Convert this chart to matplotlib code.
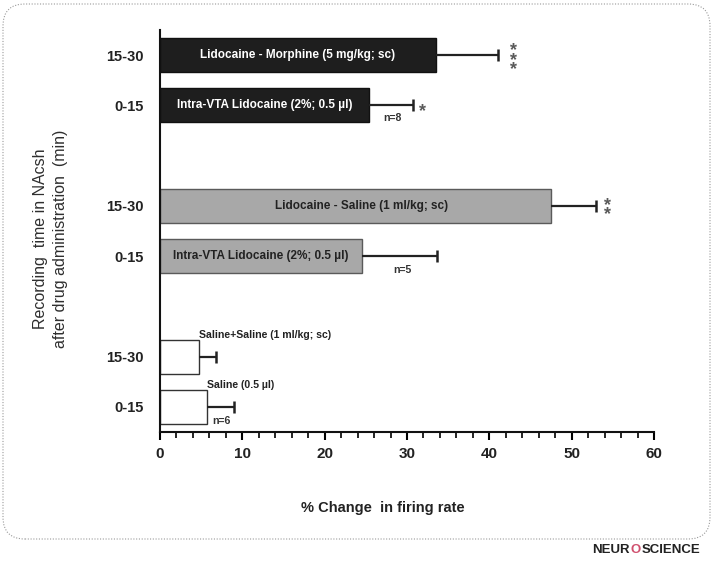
import matplotlib
matplotlib.use('Agg')
import matplotlib.pyplot as plt
from matplotlib.patches import FancyBboxPatch
from matplotlib.transforms import IdentityTransform
from matplotlib.ticker import MultipleLocator

plt.rcParams['font.family'] = ['Liberation Sans', 'DejaVu Sans']

# rows, top to bottom
row_labels = ["15-30", "0-15", "15-30", "0-15", "15-30", "0-15"]
row_pos = [7, 6, 4, 3, 1, 0]
means = [33.5, 25.4, 47.5, 24.5, 4.7, 5.7]
errs = [7.6, 5.3, 5.5, 9.1, 2.1, 3.3]
bar_text = ["Lidocaine - Morphine (5 mg/kg; sc)", "Intra-VTA Lidocaine (2%; 0.5 µl)",
            "Lidocaine - Saline (1 ml/kg; sc)", "Intra-VTA Lidocaine (2%; 0.5 µl)",
            "Saline+Saline (1 ml/kg; sc)", "Saline (0.5 µl)"]
n_labels = ["n=8", "n=5", "n=6"]
stars = ["***", "*", "**"]

FILL = ["#1e1e1e", "#1e1e1e", "#a8a8a8", "#a8a8a8", "#ffffff", "#ffffff"]
EDGE = ["#111111", "#111111", "#5a5a5a", "#5a5a5a", "#333333", "#333333"]
TXT = ["white", "white", "#222222", "#222222"]

fig = plt.figure(figsize=(7.14, 5.61), dpi=100)
ax = fig.add_axes([160/714, 1 - 432/561, 494/714, 402/561])

ax.barh(row_pos, means, height=0.68, color=FILL, edgecolor=EDGE, linewidth=1.0, zorder=2)
# one-sided error bars, cap only at the far end
ax.errorbar(means, row_pos, xerr=[[0]*len(means), errs], fmt='none', ecolor="#222222",
            elinewidth=1.6, capsize=0, zorder=3)
ends = [m + e for m, e in zip(means, errs)]
ax.plot(ends, row_pos, linestyle='none', marker='|', markersize=9, markeredgewidth=1.8,
        color="#222222", zorder=3)

# labels inside the drug bars
for i in range(4):
    xc = means[i] / 2 if i != 2 else 24.5
    ax.text(xc, row_pos[i], bar_text[i], ha='center', va='center', color=TXT[i],
            fontsize=8.5, fontweight='bold', zorder=4)
# saline labels above the bars
for i in (4, 5):
    ax.text(means[i] + 0.05, row_pos[i] + 0.44, bar_text[i], ha='left', va='center',
            color="#222222", fontsize=7.6, fontweight='bold')

# n labels
ax.text(28.2, 5.74, n_labels[0], ha='center', va='center', fontsize=7.6, fontweight='bold', color="#333333")
ax.text(29.4, 2.72, n_labels[1], ha='center', va='center', fontsize=7.6, fontweight='bold', color="#333333")
ax.text(7.5, -0.28, n_labels[2], ha='center', va='center', fontsize=7.6, fontweight='bold', color="#333333")

# significance stars, stacked vertically
ax.text(42.9, 6.9, "\n".join(stars[0]), ha='center', va='center', fontsize=13,
        fontweight='bold', linespacing=0.42, color="#5a5a5a")
ax.text(31.9, 5.88, stars[1], ha='center', va='center', fontsize=13, fontweight='bold', color="#5a5a5a")
ax.text(54.4, 3.92, "\n".join(stars[2]), ha='center', va='center', fontsize=13,
        fontweight='bold', linespacing=0.42, color="#5a5a5a")

ax.set_xlim(0, 60)
ax.set_ylim(-0.5, 7.5)
ax.set_yticks(row_pos)
ax.set_yticklabels(row_labels, fontsize=10.5, fontweight='bold', color="#222222")
ax.tick_params(axis='y', length=0, pad=11.5)
ax.xaxis.set_major_locator(MultipleLocator(10))
ax.xaxis.set_minor_locator(MultipleLocator(2))
ax.tick_params(axis='x', which='major', length=6, width=1.5, labelsize=11, pad=5, labelcolor="#222222")
ax.tick_params(axis='x', which='minor', length=4, width=1.2)
for lbl in ax.get_xticklabels():
    lbl.set_fontweight('bold')

for s in ("top", "right"):
    ax.spines[s].set_visible(False)
for s in ("left", "bottom"):
    ax.spines[s].set_linewidth(1.5)
    ax.spines[s].set_color("#111111")

ax.set_xlabel("% Change  in firing rate", fontsize=10.5, fontweight='bold', color="#222222")
ax.xaxis.set_label_coords((383 - 160) / 494, -(501 - 432) / 402)
ax.set_ylabel("Recording  time in NAcsh\nafter drug administration  (min)", fontsize=11.5,
              color="#2e2e2e", linespacing=1.45)
ax.yaxis.set_label_coords((68 - 160) / 494, (432 - 239) / 402)

# dotted rounded frame and journal mark
frame = FancyBboxPatch((3, 561 - 539), 707, 535, boxstyle="round,pad=0,rounding_size=22",
                       transform=IdentityTransform(), fill=False, linestyle=(0, (1, 1.5)),
                       linewidth=0.8, edgecolor="#999999")
fig.patches.append(frame)
fig.text(592/714, 1 - 550/561, "NEUR", ha='left', va='center', fontsize=9.5, fontweight='bold', color="#222222")
fig.text(635.5/714, 1 - 550/561, "O", ha='center', va='center', fontsize=9.5, fontweight='bold', color="#d0506e")
fig.text(642/714, 1 - 550/561, "SCIENCE", ha='left', va='center', fontsize=9.5, fontweight='bold', color="#222222")

fig.savefig("out.png", dpi=100, facecolor="white")
